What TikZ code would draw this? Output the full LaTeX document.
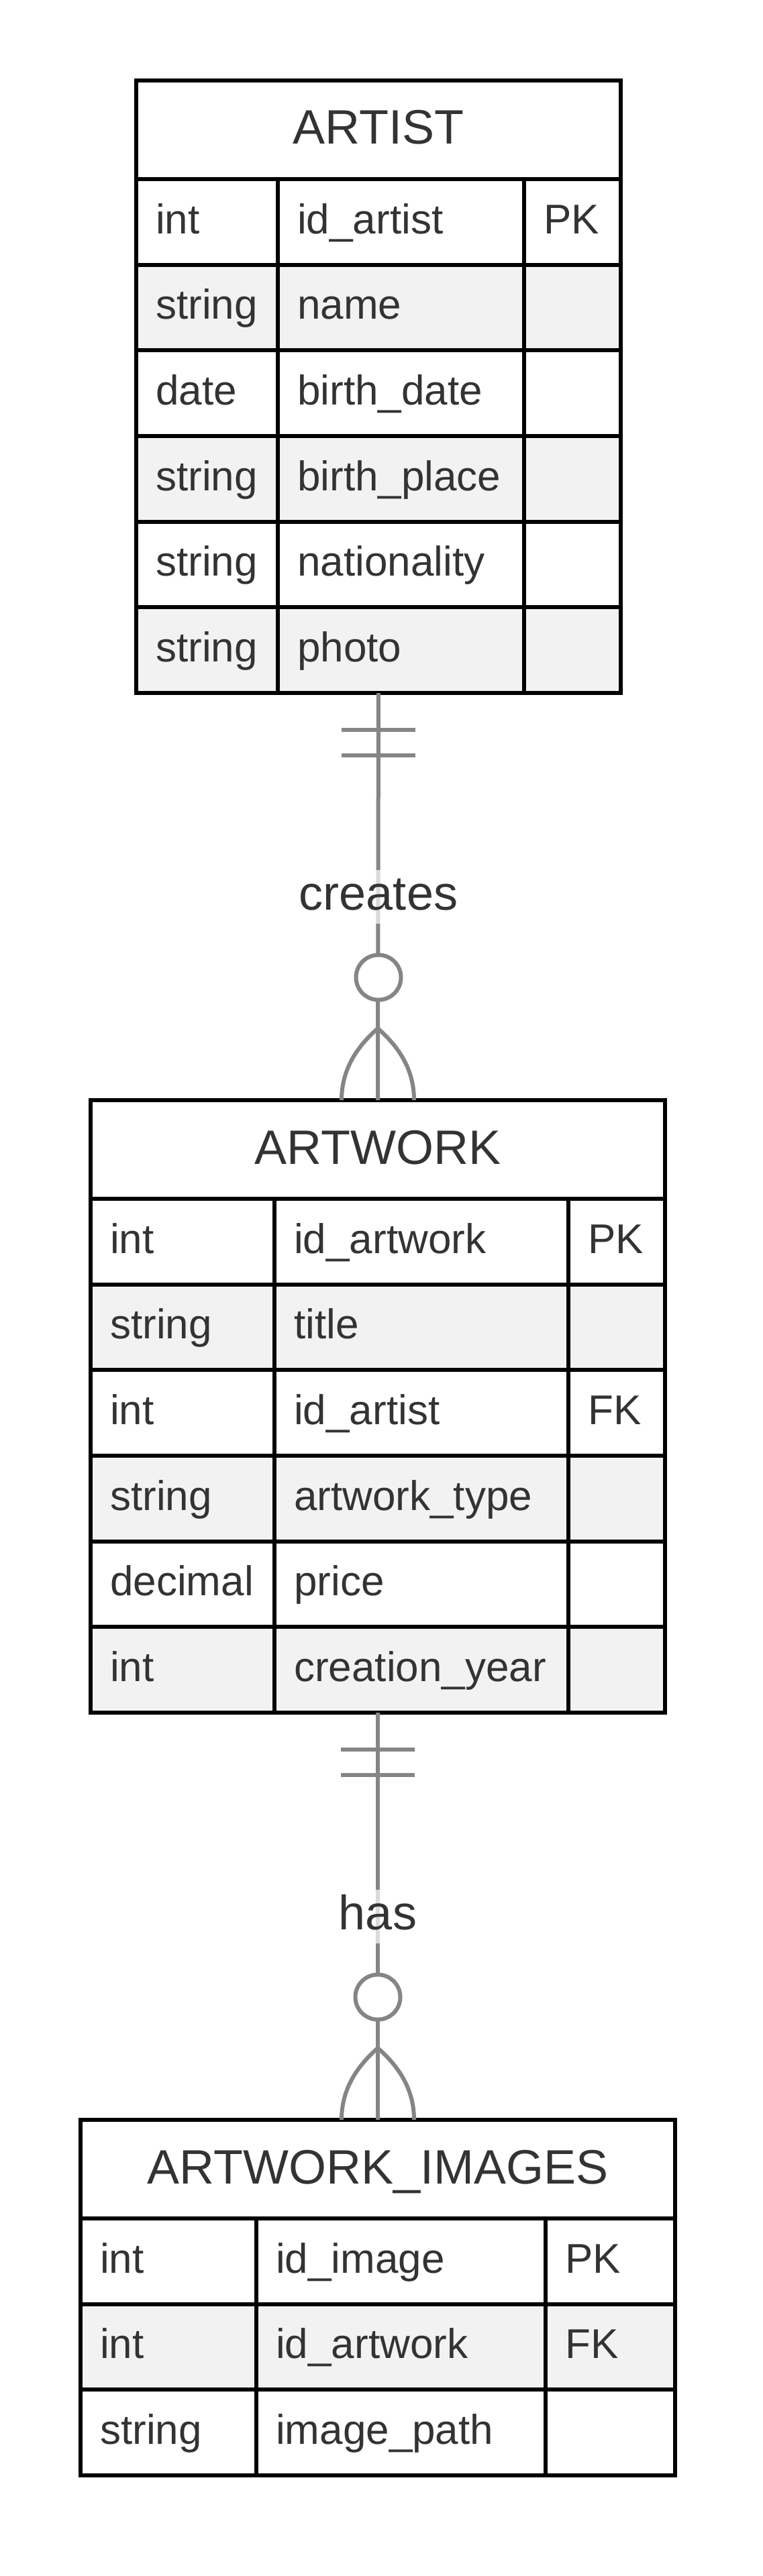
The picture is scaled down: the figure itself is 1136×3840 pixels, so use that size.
\documentclass[tikz,border=0pt]{standalone}
\usepackage{fontspec}
\setmainfont{Liberation Sans}
\usetikzlibrary{calc}
\definecolor{txt}{HTML}{333333}
\definecolor{rowgray}{HTML}{F2F2F2}
\definecolor{conngray}{HTML}{858585}
\newcommand{\myrowfont}{\fontsize{62}{74}\selectfont}
\newcommand{\myhdfont}{\fontsize{72}{86}\selectfont}
\def\rowh{127.67}
\tikzset{
  gridline/.style={line width=6pt, draw=black},
  tbox/.style={draw=black, line width=6.5pt, rectangle, inner sep=0pt, outer sep=0pt, anchor=north west},
  celltxt/.style={anchor=base west, inner sep=0pt, font=\myrowfont, text=txt},
  hdtxt/.style={anchor=base, inner sep=0pt, font=\myhdfont, text=txt},
  conn/.style={draw=conngray, line width=6pt},
  lbl/.style={anchor=base, font=\myhdfont, text=txt, fill=white, fill opacity=0.7, text opacity=1, inner xsep=2pt, inner ysep=0pt, text height=59pt, text depth=21pt},
  zcirc/.style={circle, draw=conngray, line width=6pt, fill=white, minimum size=67pt, inner sep=0pt, outer sep=0pt}
}
% #1 name, #2 L, #3 D1, #4 D2, #5 R, #6 T, #7 B, #8 title, #9 rows
\newcommand{\ertab}[9]{%
  \pgfmathsetmacro{\hb}{#6+147}%
  \foreach [count=\i] \ty/\nm/\ky in {#9} {%
    \pgfmathsetmacro{\ya}{\hb+(\i-1)*\rowh}%
    \pgfmathsetmacro{\yb}{\ya+\rowh}%
    \ifodd\i\relax\else \fill[rowgray] (#2,\ya) rectangle (#5,\yb);\fi
  }%
  \foreach [count=\i] \ty/\nm/\ky in {#9} {%
    \pgfmathsetmacro{\ya}{\hb+(\i-1)*\rowh}%
    \pgfmathsetmacro{\yb}{\ya+\rowh}%
    \pgfmathsetmacro{\yl}{\ya+81}%
    \draw[gridline] (#2,\yb) -- (#5,\yb);
    \node[celltxt] (#1-\i-t) at ({#2+29},\yl) {\ty};
    \node[celltxt] (#1-\i-n) at ({#3+29},\yl) {\nm};
    \node[celltxt] (#1-\i-k) at ({#4+29},\yl) {\ky};
  }%
  \draw[gridline] (#2,\hb) -- (#5,\hb);
  \draw[gridline] (#3,\hb) -- (#3,#7);
  \draw[gridline] (#4,\hb) -- (#4,#7);
  \node[hdtxt] (#1-title) at ({(#2+#5)/2},{#6+95}) {#8};
  \node[tbox, minimum width={(#5-#2)*1pt}, minimum height={(#7-#6)*1pt}] (#1) at (#2,#6) {};
}
\begin{document}
\begin{tikzpicture}[x=1pt,y=-1pt]
\fill[white] (0,0) rectangle (1136,3840);
\useasboundingbox (0,0) rectangle (1136,3840);

\ertab{artist}{203}{414}{781}{925}{120}{1033}{ARTIST}{int/id\_artist/PK, string/name/{}, date/birth\_date/{}, string/birth\_place/{}, string/nationality/{}, string/photo/{}}

\ertab{artwork}{135}{409}{847}{991}{1640}{2553}{ARTWORK}{int/id\_artwork/PK, string/title/{}, int/id\_artist/FK, string/artwork\_type/{}, decimal/price/{}, int/creation\_year/{}}

\ertab{images}{120}{382}{813}{1006}{3160}{3690}{ARTWORK\_IMAGES}{int/id\_image/PK, int/id\_artwork/FK, string/image\_path/{}}

% relation 1: artist ||--o{ artwork
\draw[conn] (artist.south) -- (artwork.north);
\draw[conn] ($(artist.south)+(-55,55)$) -- ($(artist.south)+(55,55)$);
\draw[conn] ($(artist.south)+(-55,93)$) -- ($(artist.south)+(55,93)$);
\node[lbl] (rel1) at ($(artist.south)+(0,323)$) {creates};
\node[zcirc] (z1) at ($(artist.south)+(0,424)$) {};
\coordinate (f1) at ($(artwork.north)+(0,-107)$);
\draw[conn] (f1) .. controls +(-32,28) and +(0,-45) .. ($(artwork.north)+(-54,0)$);
\draw[conn] (f1) .. controls +(32,28) and +(0,-45) .. ($(artwork.north)+(54,0)$);

% relation 2: artwork ||--o{ images
\draw[conn] (artwork.south) -- (images.north);
\draw[conn] ($(artwork.south)+(-55,55)$) -- ($(artwork.south)+(55,55)$);
\draw[conn] ($(artwork.south)+(-55,93)$) -- ($(artwork.south)+(55,93)$);
\node[lbl] (rel2) at ($(artwork.south)+(0,323)$) {has};
\node[zcirc] (z2) at ($(artwork.south)+(0,424)$) {};
\coordinate (f2) at ($(images.north)+(0,-107)$);
\draw[conn] (f2) .. controls +(-32,28) and +(0,-45) .. ($(images.north)+(-54,0)$);
\draw[conn] (f2) .. controls +(32,28) and +(0,-45) .. ($(images.north)+(54,0)$);
\end{tikzpicture}
\end{document}
